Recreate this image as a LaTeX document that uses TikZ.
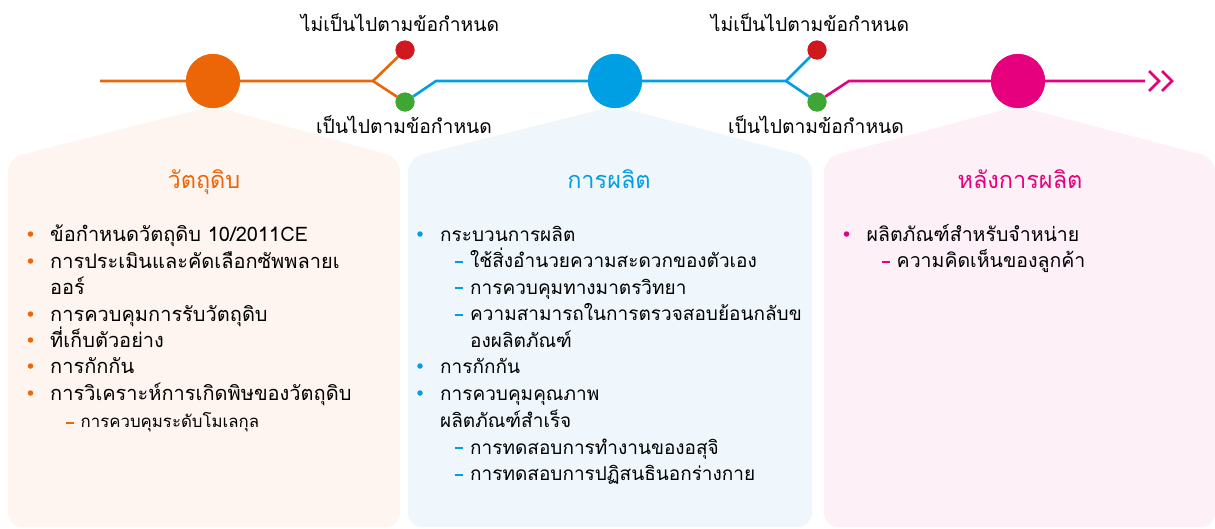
\documentclass[tikz,border=0pt]{standalone}
\usepackage{fontspec}
\newfontfamily\thai[Script=Thai]{Loma}
\definecolor{corange}{HTML}{EC6608}
\definecolor{cblue}{HTML}{009FE3}
\definecolor{cpink}{HTML}{E6007E}
\definecolor{cred}{HTML}{D0191E}
\definecolor{cgreen}{HTML}{3FA535}
\definecolor{forange}{HTML}{FEF5F0}
\definecolor{fblue}{HTML}{EFF7FC}
\definecolor{fpink}{HTML}{FDF1F7}
\begin{document}
\begin{tikzpicture}[x=1pt,y=-1pt,
  tl/.style={line width=2.6pt},
  bigdot/.style={circle, minimum size=54pt, inner sep=0pt},
  smalldot/.style={circle, minimum size=19pt, inner sep=0pt},
  lbl/.style={anchor=base, inner sep=0pt, font=\thai\fontsize{19.3}{22}\selectfont},
  ttl/.style={anchor=base, inner sep=0pt, font=\thai\fontsize{23.5}{27}\selectfont},
  txt/.style={anchor=base west, inner sep=0pt, font=\thai\fontsize{19.5}{22}\selectfont},
  txta/.style={txt, font=\thai\fontsize{20}{22}\selectfont},
  txtb/.style={txt, font=\thai\fontsize{19}{22}\selectfont},
  smalltxt/.style={anchor=base west, inner sep=0pt, font=\thai\fontsize{16.8}{19}\selectfont},
  bul/.style={circle, minimum size=5.5pt, inner sep=0pt},
  dsh/.style={rectangle, minimum width=8pt, minimum height=2pt, inner sep=0pt},
  panel/.style={rounded corners=14pt}
]
\useasboundingbox (0,0) rectangle (1215,528);
% panels
\fill[forange, panel] (8,527) -- (8,158) -- (213,106) -- (400,158) -- (400,527) -- cycle;
\fill[fblue, panel] (408,527) -- (408,158) -- (615,106) -- (812,158) -- (812,527) -- cycle;
\fill[fpink, panel] (824,527) -- (824,158) -- (1018,106) -- (1215,158) -- (1215,527) -- cycle;
% timeline nodes
\coordinate (s) at (100,81);
\node[bigdot, fill=corange] (c1) at (213,81) {};
\coordinate (j1) at (373,81);
\node[smalldot, fill=cred] (r1) at (405,50) {};
\node[smalldot, fill=cgreen] (g1) at (405,102) {};
\coordinate (k1) at (436,81);
\node[bigdot, fill=cblue] (c2) at (615,81) {};
\coordinate (j2) at (786,81);
\node[smalldot, fill=cred] (r2) at (817,50) {};
\node[smalldot, fill=cgreen] (g2) at (817,102) {};
\coordinate (k2) at (849,81);
\node[bigdot, fill=cpink] (c3) at (1018,81) {};
\coordinate (e) at (1145,81);
% connectors
\draw[tl, corange] (s) -- (c1) -- (j1) -- (r1);
\draw[tl, corange] (j1) -- (g1);
\draw[tl, cblue] (g1) -- (k1) -- (c2) -- (j2) -- (r2);
\draw[tl, cblue] (j2) -- (g2);
\draw[tl, cpink] (g2) -- (k2) -- (c3) -- (e);
\draw[tl, cpink] (1149,71) -- (1159,81) -- (1149,91);
\draw[tl, cpink] (1162,71) -- (1172,81) -- (1162,91);
% redraw dots on top
\node[bigdot, fill=corange] at (c1) {};
\node[bigdot, fill=cblue] at (c2) {};
\node[bigdot, fill=cpink] at (c3) {};
\node[smalldot, fill=cred] at (r1) {};
\node[smalldot, fill=cgreen] at (g1) {};
\node[smalldot, fill=cred] at (r2) {};
\node[smalldot, fill=cgreen] at (g2) {};
% labels
\node[lbl] (n1) at (400,31) {ไม่เป็นไปตามข้อกำหนด};
\node[lbl] (y1) at (404,133) {เป็นไปตามข้อกำหนด};
\node[lbl] (n2) at (810,31) {ไม่เป็นไปตามข้อกำหนด};
\node[lbl] (y2) at (816,133) {เป็นไปตามข้อกำหนด};
% titles
\node[ttl, text=corange] (t1) at (204,188) {วัตถุดิบ};
\node[ttl, text=cblue] (t2) at (609,188) {การผลิต};
\node[ttl, text=cpink] (t3) at (1020,188) {หลังการผลิต};
% panel 1
\foreach \y in {234,261,314,340,366,393} \node[bul, fill=corange] at (30.5,\y) {};
\node[txta] (a1) at (50,241) {ข้อกำหนดวัตถุดิบ 10/2011CE};
\node[txta] (a2) at (50,268) {การประเมินและคัดเลือกซัพพลายเ};
\node[txta] (a3) at (50,294) {ออร์};
\node[txta] (a4) at (50,321) {การควบคุมการรับวัตถุดิบ};
\node[txta] (a5) at (50,347) {ที่เก็บตัวอย่าง};
\node[txta] (a6) at (50,373) {การกักกัน};
\node[txta] (a7) at (50,400) {การวิเคราะห์การเกิดพิษของวัตถุดิบ};
\node[dsh, fill=corange] at (70,422.5) {};
\node[smalltxt] (a8) at (80.5,427) {การควบคุมระดับโมเลกุล};
% panel 2
\foreach \y in {234,366,393} \node[bul, fill=cblue] at (420,\y) {};
\node[txtb] (b1) at (440,241) {กระบวนการผลิต};
\foreach \y in {261.7,288.3,315,448,474.5} \node[dsh, fill=cblue] at (459,\y) {};
\node[txtb] (b2) at (470,267.3) {ใช้สิ่งอำนวยความสะดวกของตัวเอง};
\node[txtb] (b3) at (470,294) {การควบคุมทางมาตรวิทยา};
\node[txtb] (b4) at (470,320.7) {ความสามารถในการตรวจสอบย้อนกลับข};
\node[txtb] (b5) at (470,347) {องผลิตภัณฑ์};
\node[txtb] (b6) at (440,373) {การกักกัน};
\node[txtb] (b7) at (440,400.7) {การควบคุมคุณภาพ};
\node[txtb] (b8) at (440,427) {ผลิตภัณฑ์สำเร็จ};
\node[txtb] (b9) at (470,454) {การทดสอบการทำงานของอสุจิ};
\node[txtb] (b10) at (470,480) {การทดสอบการปฏิสนธินอกร่างกาย};
% panel 3
\node[bul, fill=cpink] at (846.5,234) {};
\node[txt] (d1) at (866.5,241) {ผลิตภัณฑ์สำหรับจำหน่าย};
\node[dsh, fill=cpink] at (885.5,261.7) {};
\node[txt] (d2) at (896.5,267.3) {ความคิดเห็นของลูกค้า};
\end{tikzpicture}
\end{document}
